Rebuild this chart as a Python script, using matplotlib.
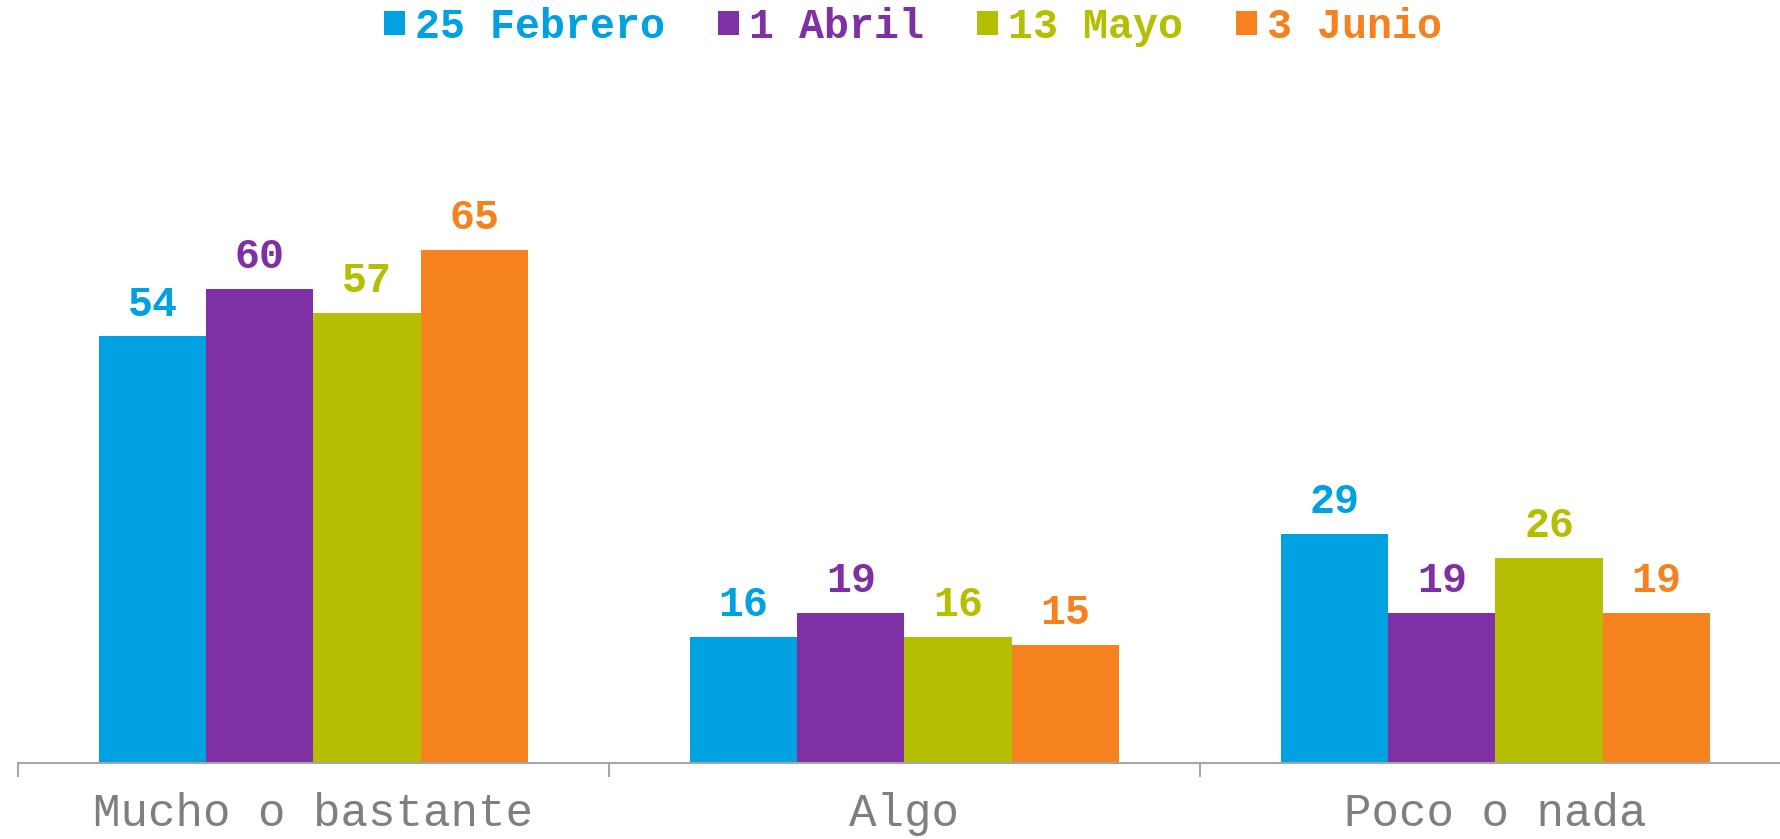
import matplotlib
matplotlib.use("Agg")
import matplotlib.pyplot as plt
from matplotlib.patches import Patch
import numpy as np

categories = ["Mucho o bastante", "Algo", "Poco o nada"]
series = ["25 Febrero", "1 Abril", "13 Mayo", "3 Junio"]
values = {
    "25 Febrero": [54, 16, 29],
    "1 Abril": [60, 19, 19],
    "13 Mayo": [57, 16, 26],
    "3 Junio": [65, 15, 19],
}
colors = ["#00A1E0", "#7F30A5", "#B5BE00", "#F6821F"]

W, H = 1781, 839
fig = plt.figure(figsize=(W / 100, H / 100), dpi=100)
ax = fig.add_axes([18 / W, (H - 763) / H, 1773 / W, 632 / H])

x = np.arange(len(categories))
bw = 0.1815
for i, (s, c) in enumerate(zip(series, colors)):
    pos = x + (i - 1.5) * bw
    bars = ax.bar(pos, values[s], width=bw, color=c, edgecolor="none")
    for b, v in zip(bars, values[s]):
        ax.annotate(str(v), (b.get_x() + b.get_width() / 2, v),
                    xytext=(0, 15), textcoords="offset points",
                    ha="center", va="baseline", color=c,
                    fontsize=30, fontweight="bold", family="Liberation Mono")

ax.set_xlim(-0.5, 2.5)
ax.set_ylim(0, 80)
for sp in ["top", "right", "left"]:
    ax.spines[sp].set_visible(False)
ax.spines["bottom"].set_color("#A6A6A6")
ax.spines["bottom"].set_linewidth(1.5)
ax.set_yticks([])
ax.set_xticks(x)
ax.set_xticklabels(categories, family="Liberation Mono", fontsize=33, color="#7F7F7F")
ax.tick_params(axis="x", which="major", length=0, pad=21)
ax.set_xticks([-0.5, 0.5, 1.5, 2.5], minor=True)
ax.tick_params(axis="x", which="minor", length=10, width=1.5, color="#A6A6A6")

handles = [Patch(facecolor=c, edgecolor="none") for c in colors]
leg = fig.legend(handles, series, loc="center", bbox_to_anchor=(913 / W, 1 - 27 / H),
                 ncol=4, frameon=False, prop={"family": "Liberation Mono", "weight": "bold", "size": 30},
                 handlelength=0.5, handleheight=0.5, handletextpad=0.24,
                 columnspacing=1.27, borderpad=0, borderaxespad=0)
for t, c in zip(leg.get_texts(), colors):
    t.set_color(c)

fig.savefig("out.png", dpi=100)
